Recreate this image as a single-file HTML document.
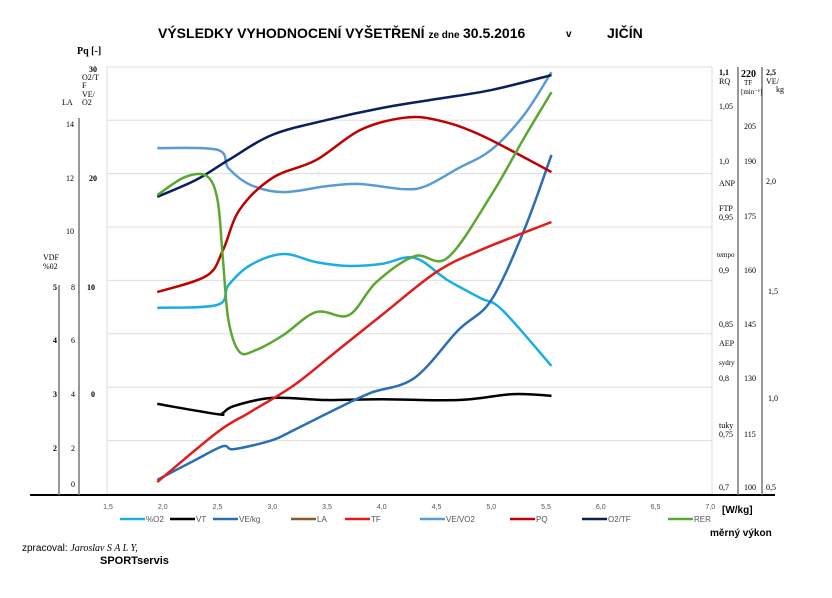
<!DOCTYPE html>
<html><head><meta charset="utf-8"><style>
body{margin:0;background:#fff;width:832px;height:593px;overflow:hidden;font-family:"Liberation Sans",sans-serif}
</style></head><body>
<svg id="chart" width="832" height="593" xmlns="http://www.w3.org/2000/svg" font-family="Liberation Serif, serif">
<g font-weight="bold" fill="#000" font-family="Liberation Sans, sans-serif">
<text x="158" y="38" font-size="14">VÝSLEDKY VYHODNOCENÍ VYŠETŘENÍ <tspan font-size="10">ze dne</tspan></text>
<text x="463" y="38" font-size="14">30.5.2016</text>
<text x="566" y="37" font-size="10">v</text>
<text x="607" y="38" font-size="14">JIČÍN</text>
</g>
<rect x="107" y="67" width="605" height="427" fill="none" stroke="#ddd"/>
<g id="grid"></g>
<g id="axes" font-size="9" fill="#000"></g>
<g id="series" fill="none" stroke-width="2.5"></g>
<g id="legend" font-family="Liberation Sans, sans-serif" font-size="8"></g>
<text x="722" y="513" font-family="Liberation Sans, sans-serif" font-size="10" font-weight="bold">[W/kg]</text>
<text x="710" y="536" font-family="Liberation Sans, sans-serif" font-size="10" font-weight="bold">měrný výkon</text>
<text x="22" y="551" font-size="10"><tspan font-family="Liberation Sans, sans-serif">zpracoval: </tspan><tspan font-style="italic">Jaroslav S A L Y,</tspan></text>
<text x="100" y="564" font-family="Liberation Sans, sans-serif" font-size="11" font-weight="bold">SPORTservis</text>
</svg>
<script>
const xTicks=["1,5","2,0","2,5","3,0","3,5","4,0","4,5","5,0","5,5","6,0","6,5","7,0"];
const sO2x=[1.95,2.5,2.6,2.8,3.1,3.4,3.7,4.0,4.3,4.6,4.9,5.1,5.55];
const sO2y=[43.6,44.3,48.9,53.6,56.2,54.3,53.4,53.9,55.3,50.1,45.9,43.1,30.0];
const vtX=[1.95,2.5,2.55,2.65,3.0,3.5,4.0,4.7,5.2,5.55];
const vtY=[21.1,18.7,19.0,20.6,22.5,22.0,22.2,22.0,23.4,23.0];
const vekgX=[1.95,2.3,2.55,2.65,3.0,3.2,3.6,3.9,4.3,4.7,5.0,5.3,5.55];
const vekgY=[3.3,8.0,11.2,10.5,12.6,15.0,20.1,23.7,27.2,38.4,45.4,61.8,79.4];
const tfX=[1.95,2.5,2.8,3.2,3.6,4.0,4.5,4.9,5.55];
const tfY=[2.8,14.5,19.2,25.5,33.7,41.9,52.0,57.1,63.7];
const vevoX=[1.95,2.5,2.6,2.8,3.1,3.5,3.8,4.2,4.4,4.7,5.0,5.3,5.55];
const vevoY=[81.0,80.6,76.3,72.4,70.7,72.1,72.6,71.4,72.1,76.3,80.6,88.8,98.8];
const pqX=[1.95,2.4,2.55,2.7,3.0,3.4,3.8,4.2,4.5,4.9,5.55];
const pqY=[47.3,51.1,57.1,66.5,74.0,78.2,85.2,88.1,87.6,84.1,75.4];
const o2tfX=[1.95,2.3,2.6,3.0,3.5,4.0,4.5,5.0,5.55];
const o2tfY=[69.6,73.5,78.2,84.1,87.6,90.4,92.5,94.6,98.1];
const rerX=[1.95,2.2,2.4,2.5,2.55,2.6,2.7,2.85,3.1,3.4,3.7,3.95,4.3,4.6,5.0,5.3,5.55];
const rerY=[70.0,74.2,74.5,68.9,54.8,40.7,33.3,33.7,37.2,42.6,41.9,49.6,55.7,55.3,70.0,83.4,94.1];
const legendNames=["%O2","VT","VE/kg","LA","TF","VE/VO2","PQ","O2/TF","RER"];
const legendColors=["#1aaee6","#000000","#2a6fb5","#8b5a2b","#e21b1b","#5b9bd5","#c00000","#0a1f5c","#5aa832"];

const NS="http://www.w3.org/2000/svg";
const X=v=>108+(v-1.5)*109.5;
const Y=p=>494-p*4.27;
function mk(t,a,parent){const e=document.createElementNS(NS,t);for(const k in a)e.setAttribute(k,a[k]);parent.appendChild(e);return e;}
const grid=document.getElementById('grid');
for(let i=1;i<8;i++){const l=mk('line',{x1:107,x2:712,y1:494-i*53.4,y2:494-i*53.4,stroke:'#ddd'},grid);

}
const ax=document.getElementById('axes');
const base=mk('line',{x1:30,x2:775,y1:495,y2:495,stroke:'#000','stroke-width':2},ax);


xTicks.forEach((t,i)=>{const tx=mk('text',{x:X(1.5+i*0.5),y:509,'text-anchor':'middle','font-family':'Liberation Sans, sans-serif','font-size':7,fill:'#555'},ax);tx.textContent=t;

});
[[59,285,495],[79,118,495],[738,67,495],[762,67,495]].forEach(a=>{const l=mk('line',{x1:a[0],x2:a[0],y1:a[1],y2:a[2],stroke:'#777','stroke-width':1.5},ax);

});
const labels=[
[77,54,"Pq [-]",'bold',10,'start'],[97,72,"30",'bold',8,'end'],[82,80,"O2/T",'',8,'start'],[82,88,"F",'',8,'start'],[82,97,"VE/",'',8,'start'],[82,105,"O2",'',8,'start'],[62,105,"LA",'',8,'start'],
[74,127,"14",'',8,'end'],[74,181,"12",'',8,'end'],[97,181,"20",'bold',8,'end'],[74,234,"10",'',8,'end'],[43,260,"VDF",'',8,'start'],[43,269,"%02",'',8,'start'],
[57,290,"5",'bold',8,'end'],[75,290,"8",'',8,'end'],[95,290,"10",'bold',8,'end'],[57,343,"4",'bold',8,'end'],[75,343,"6",'',8,'end'],
[57,397,"3",'bold',8,'end'],[75,397,"4",'',8,'end'],[95,397,"0",'bold',8,'end'],[57,451,"2",'bold',8,'end'],[75,451,"2",'',8,'end'],[75,487,"0",'',8,'end'],
[719,75,"1,1",'bold',8,'start'],[719,84,"RQ",'',8,'start'],[719,109,"1,05",'',8,'start'],[719,164,"1,0",'',8,'start'],[719,186,"ANP",'',8,'start'],[719,211,"FTP",'',8,'start'],[719,220,"0,95",'',8,'start'],[717,257,"tempo",'',7,'start'],[719,273,"0,9",'',8,'start'],[719,327,"0,85",'',8,'start'],[719,346,"AEP",'',8,'start'],[719,365,"sydry",'',7,'start'],[719,381,"0,8",'',8,'start'],[719,428,"tuky",'',8,'start'],[719,437,"0,75",'',8,'start'],[719,490,"0,7",'',8,'start'],
[741,77,"220",'bold',10,'start'],[744,85,"TF",'',7,'start'],[741,94,"[min⁻¹]",'',7,'start'],[744,129,"205",'',8,'start'],[744,164,"190",'',8,'start'],[744,219,"175",'',8,'start'],[744,273,"160",'',8,'start'],[744,327,"145",'',8,'start'],[744,381,"130",'',8,'start'],[744,437,"115",'',8,'start'],[744,490,"100",'',8,'start'],
[766,75,"2,5",'bold',8,'start'],[766,84,"VE/",'',8,'start'],[776,92,"kg",'',8,'start'],[766,184,"2,0",'',8,'start'],[768,294,"1,5",'',8,'start'],[768,401,"1,0",'',8,'start'],[766,490,"0,5",'',8,'start']];
labels.forEach(a=>{const t=mk('text',{x:a[0],y:a[1],'font-weight':a[3]||'normal','font-size':a[4],'text-anchor':a[5]},ax);t.textContent=a[2];

});
function path(xs,ys){const p=xs.map((x,i)=>[X(x),Y(ys[i])]);let d=`M${p[0][0]},${p[0][1]}`;
for(let i=0;i<p.length-1;i++){const p0=p[i-1]||p[i],p1=p[i],p2=p[i+1],p3=p[i+2]||p2;
d+=` C${p1[0]+(p2[0]-p0[0])/6},${p1[1]+(p2[1]-p0[1])/6} ${p2[0]-(p3[0]-p1[0])/6},${p2[1]-(p3[1]-p1[1])/6} ${p2[0]},${p2[1]}`;}return d;}
const sg=document.getElementById('series');
const series=[["%O2",sO2x,sO2y,0],["VT",vtX,vtY,1],["VE/kg",vekgX,vekgY,2],["TF",tfX,tfY,4],["VE/VO2",vevoX,vevoY,5],["PQ",pqX,pqY,6],["O2/TF",o2tfX,o2tfY,7],["RER",rerX,rerY,8]];
series.forEach(s=>{const e=mk('path',{d:path(s[1],s[2]),stroke:legendColors[s[3]]},sg);

});
const lg=document.getElementById('legend');
const lx=[120,170,213,291,345,420,510,582,668];
legendNames.forEach((n,i)=>{const g=mk('g',{},lg);


mk('line',{x1:lx[i],x2:lx[i]+25,y1:519,y2:519,stroke:legendColors[i],'stroke-width':2.5},g);
const t=mk('text',{x:lx[i]+26,y:522,fill:'#555'},g);t.textContent=n;});
</script>
</body></html>
